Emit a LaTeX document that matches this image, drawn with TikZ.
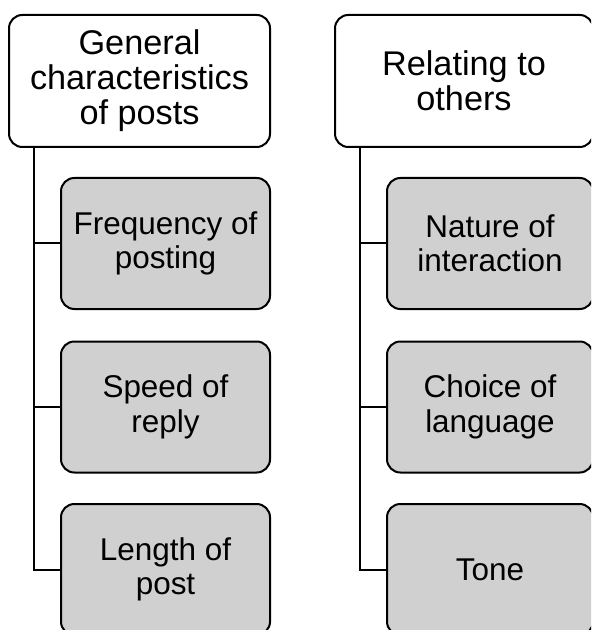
\documentclass[tikz,border=0pt]{standalone}
\usepackage{fontspec}
\setmainfont{Liberation Sans}
\definecolor{itemgray}{RGB}{208,208,208}
\begin{document}
\begin{tikzpicture}[x=0.75pt,y=-0.75pt,
  box/.style={draw=black, line width=1.5pt, rounded corners=10pt,
    align=center, inner sep=0pt, text=black},
  headbox/.style={box, fill=white, minimum height=99pt,
    font=\fontsize{25.7}{26.25}\selectfont},
  itembox/.style={box, fill=itemgray, minimum height=98.25pt,
    font=\fontsize{23.6}{25.9}\selectfont},
  conn/.style={draw=black, line width=1.5pt}]
\useasboundingbox (0,0) rectangle (591,630);
\clip (0,0) rectangle (591,630);

% left column
\node[headbox, minimum width=195.75pt] (lh) at (139.5,81)
  {General\\characteristics\\of posts};
\node[itembox, minimum width=156.75pt] (lc1) at (165.5,243.5)
  {Frequency of\\posting};
\node[itembox, minimum width=156.75pt] (lc2) at (165.5,407)
  {Speed of\\reply};
\node[itembox, minimum width=156.75pt] (lc3) at (165.5,569.5)
  {Length of\\post};

% right column
\node[headbox, minimum width=193.5pt] (rh) at (464,81)
  {Relating to\\others};
\node[itembox, minimum width=154.5pt] (rc1) at (490,243.5)
  {Nature of\\interaction};
\node[itembox, minimum width=154.5pt] (rc2) at (490,407)
  {Choice of\\language};
\node[itembox, minimum width=154.5pt] (rc3) at (490,569.5)
  {Tone};

% branches from each heading down to its items
\foreach \c in {lc1,lc2,lc3}
  \draw[conn] ([xshift=19.5pt]lh.south west) |- (\c.west);
\foreach \c in {rc1,rc2,rc3}
  \draw[conn] ([xshift=19.5pt]rh.south west) |- (\c.west);
\end{tikzpicture}
\end{document}
